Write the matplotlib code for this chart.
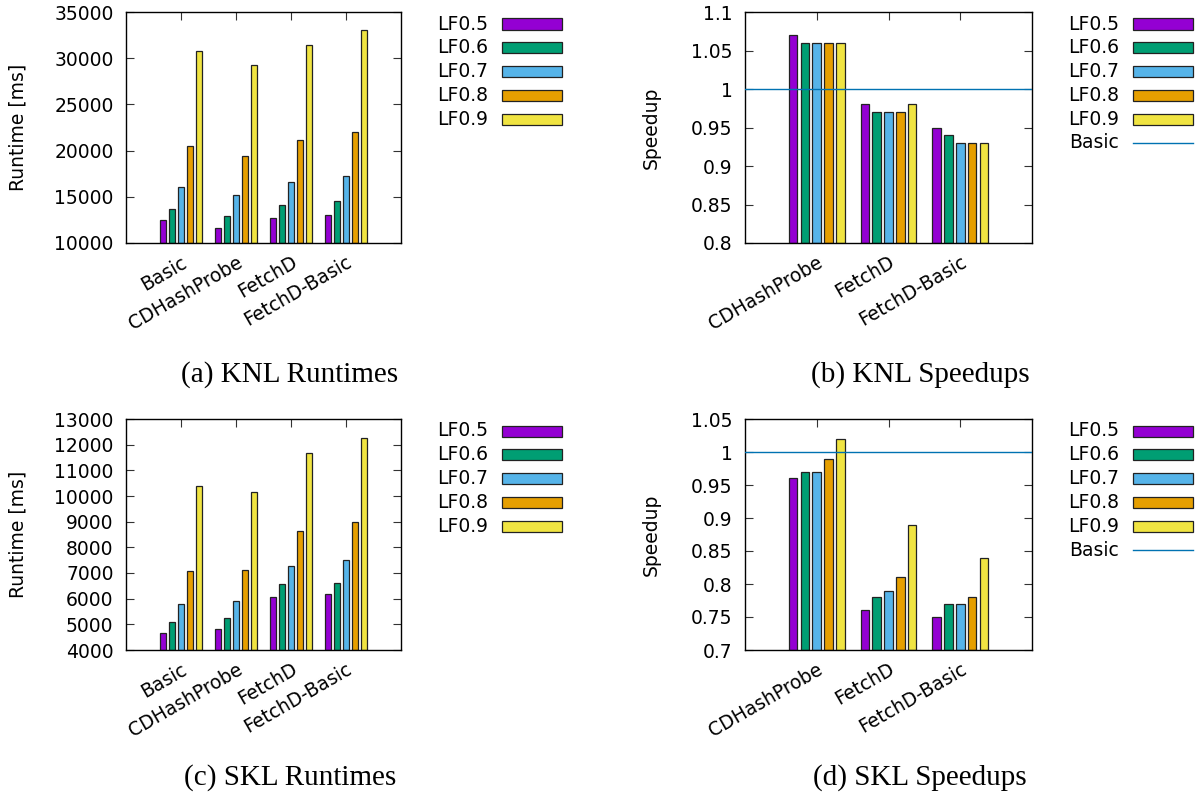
import matplotlib
matplotlib.use("Agg")
import matplotlib.pyplot as plt
import matplotlib.transforms as mtransforms
from matplotlib.patches import Rectangle
from matplotlib.lines import Line2D

W, H = 1203, 801

series = ["LF0.5", "LF0.6", "LF0.7", "LF0.8", "LF0.9"]
colors = ["#9400d3", "#009e73", "#56b4e9", "#e69f00", "#f0e442"]
basic_color = "#0072b2"

rt_categories = ["Basic", "CDHashProbe", "FetchD", "FetchD-Basic"]
sp_categories = ["CDHashProbe", "FetchD", "FetchD-Basic"]

# KNL runtimes [ms]; one list per load factor, in category order
knl_rt_05 = [12500, 11620, 12700, 13030]
knl_rt_06 = [13670, 12880, 14110, 14540]
knl_rt_07 = [16090, 15150, 16560, 17200]
knl_rt_08 = [20520, 19440, 21100, 22030]
knl_rt_09 = [30750, 29240, 31430, 33050]

# KNL speedups
knl_sp_05 = [1.07, 0.98, 0.95]
knl_sp_06 = [1.06, 0.97, 0.94]
knl_sp_07 = [1.06, 0.97, 0.93]
knl_sp_08 = [1.06, 0.97, 0.93]
knl_sp_09 = [1.06, 0.98, 0.93]

# SKL runtimes [ms]
skl_rt_05 = [4650, 4820, 6060, 6170]
skl_rt_06 = [5080, 5250, 6560, 6600]
skl_rt_07 = [5780, 5920, 7290, 7490]
skl_rt_08 = [7060, 7120, 8640, 8970]
skl_rt_09 = [10390, 10170, 11660, 12250]

# SKL speedups
skl_sp_05 = [0.96, 0.76, 0.75]
skl_sp_06 = [0.97, 0.78, 0.77]
skl_sp_07 = [0.97, 0.79, 0.77]
skl_sp_08 = [0.99, 0.81, 0.78]
skl_sp_09 = [1.02, 0.89, 0.84]

basic_speedup = 1.0

knl_rt_ticks = [10000, 15000, 20000, 25000, 30000, 35000]
knl_sp_ticks = [0.8, 0.85, 0.9, 0.95, 1.0, 1.05, 1.1]
knl_sp_ticklabels = ["0.8", "0.85", "0.9", "0.95", "1", "1.05", "1.1"]
skl_rt_ticks = [4000, 5000, 6000, 7000, 8000, 9000, 10000, 11000, 12000, 13000]
skl_sp_ticks = [0.7, 0.75, 0.8, 0.85, 0.9, 0.95, 1.0, 1.05]
skl_sp_ticklabels = ["0.7", "0.75", "0.8", "0.85", "0.9", "0.95", "1", "1.05"]

captions = ["(a) KNL Runtimes", "(b) KNL Speedups", "(c) SKL Runtimes", "(d) SKL Speedups"]

plt.rcParams['font.family'] = ['DejaVu Sans']
FS = 13.5

fig = plt.figure(figsize=(W / 100, H / 100), dpi=100)


def px_axes(l, t, r, b):
    return fig.add_axes([l / W, (H - b) / H, (r - l) / W, (b - t) / H])


def draw_panel(rect, cats, data, ylim, yticks, yticklabels, ylabel, ylabel_x,
               with_basic):
    ax = px_axes(*rect)
    n = len(cats)
    step = 0.165
    width = 0.12
    for i, vals in enumerate(data):
        xs = [c + (i - 2) * step for c in range(n)]
        ax.bar(xs, [v - ylim[0] for v in vals], width=width, bottom=ylim[0],
               color=colors[i], edgecolor="#222222", linewidth=0.9, zorder=2)
    if with_basic:
        ax.axhline(basic_speedup, color=basic_color, linewidth=1.0, zorder=3)
    ax.set_xlim(-1, n)
    ax.set_ylim(*ylim)
    ax.set_yticks(yticks)
    ax.set_yticklabels(yticklabels, fontsize=FS)
    ax.set_xticks(list(range(n)))
    ax.set_xticklabels(cats, fontsize=FS, rotation=30, ha="right", va="top",
                       rotation_mode="anchor")
    offset = mtransforms.ScaledTranslation(2 / 100, 0, fig.dpi_scale_trans)
    for lab in ax.get_xticklabels():
        lab.set_transform(lab.get_transform() + offset)
    ax.tick_params(axis="both", direction="in", length=6, width=0.8,
                   top=True, right=True, color="#333333")
    ax.tick_params(axis="y", pad=9)
    ax.tick_params(axis="x", pad=7)
    for s in ax.spines.values():
        s.set_linewidth(1.0)
    l, t, r, b = rect
    fig.text(ylabel_x / W, 1 - ((t + b) / 2) / H, ylabel, rotation=90,
             ha="center", va="center", fontsize=FS)
    return ax


def draw_legend(text_right, sx0, sx1, y0, with_basic):
    dy = 23.8
    labels = list(series) + (["Basic"] if with_basic else [])
    for i, lab in enumerate(labels):
        y = y0 + i * dy
        fig.text(text_right / W, 1 - y / H, lab, ha="right", va="center",
                 fontsize=FS)
        if i < len(series):
            h = 11
            fig.patches.append(Rectangle((sx0 / W, 1 - (y + h / 2) / H),
                                         (sx1 - sx0) / W, h / H,
                                         transform=fig.transFigure,
                                         facecolor=colors[i],
                                         edgecolor="#222222", linewidth=0.9))
        else:
            fig.lines.append(Line2D([sx0 / W, sx1 / W], [1 - y / H, 1 - y / H],
                                    transform=fig.transFigure,
                                    color=basic_color, linewidth=1.0))


knl_rt = [knl_rt_05, knl_rt_06, knl_rt_07, knl_rt_08, knl_rt_09]
knl_sp = [knl_sp_05, knl_sp_06, knl_sp_07, knl_sp_08, knl_sp_09]
skl_rt = [skl_rt_05, skl_rt_06, skl_rt_07, skl_rt_08, skl_rt_09]
skl_sp = [skl_sp_05, skl_sp_06, skl_sp_07, skl_sp_08, skl_sp_09]

draw_panel((126, 12, 401, 243), rt_categories, knl_rt, (10000, 35000),
           knl_rt_ticks, [str(v) for v in knl_rt_ticks], "Runtime [ms]", 18,
           False)
draw_panel((745, 12, 1032, 243), sp_categories, knl_sp, (0.8, 1.1),
           knl_sp_ticks, knl_sp_ticklabels, "Speedup", 651, True)
draw_panel((126, 419, 401, 650), rt_categories, skl_rt, (4000, 13000),
           skl_rt_ticks, [str(v) for v in skl_rt_ticks], "Runtime [ms]", 18,
           False)
draw_panel((745, 419, 1032, 650), sp_categories, skl_sp, (0.7, 1.05),
           skl_sp_ticks, skl_sp_ticklabels, "Speedup", 651, True)

draw_legend(488, 502, 562, 24, False)
draw_legend(1119, 1133, 1193, 24, True)
draw_legend(488, 502, 562, 431, False)
draw_legend(1119, 1133, 1193, 431, True)

cap_pos = [(290, 375), (920, 375), (290, 778), (920, 778)]
for (cx, cy), txt in zip(cap_pos, captions):
    fig.text(cx / W, 1 - cy / H, txt, ha="center", va="center", fontsize=21,
             family=["Liberation Serif", "DejaVu Serif"])

fig.savefig("out.png", dpi=100)
